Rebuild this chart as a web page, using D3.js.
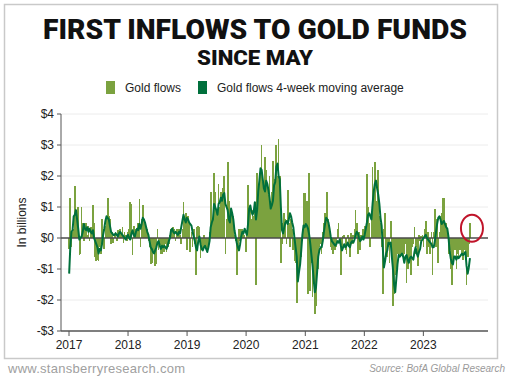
<!DOCTYPE html>
<html>
<head>
<meta charset="utf-8">
<script src="https://cdn.jsdelivr.net/npm/d3@7"></script>
<style>
  body { margin: 0; background: #fff; }
  svg { display: block; font-family: "Liberation Sans", Arial, sans-serif; }
</style>
</head>
<body>
<div id="chart"></div>
<script>
// weekly gold fund flows, $bn (one array per year)
const flows2017 = [-0.35,1.28,-0.3,0.2,0.3,1.68,0.8,0.9,1.0,-0.55,-0.5,1.0,0.5,-0.1,0.5,0.5,0.1,0.4,-0.1,0.35,0.2,1.05,0.5,-0.6,-0.75,-0.7,-0.75,-0.3,-0.5,0.6,0.3,-0.35,0.4,0.65,1.3,0.7,0.6,-0.2,0.2,-0.15,0.1,0.2,-0.1,0.25,0.15,0.3,0.1,0.35,-0.15,0.2,0.1,-0.1];
const flows2018 = [0.2,0.3,1.15,1.1,-0.55,0.4,0.2,0.3,0.15,0.5,1.25,-0.3,0.6,1.05,0.6,0.5,0.2,0.3,-0.1,-0.3,-0.85,-0.8,-0.2,-0.5,-0.9,-0.85,0.3,-0.4,-0.2,-0.5,-0.5,-0.3,-0.45,-0.2,-0.45,-0.3,-0.2,0.1,0.3,0.2,0.35,0.3,-0.1,0.3,0.25,0.3,0.1,-0.2,0.3,1.15,0.6,0.8];
const flows2019 = [-0.4,0.7,0.45,-0.45,0.2,-0.3,0.3,-0.2,-1.2,0.35,0.4,0.35,-0.65,-0.3,-0.4,0.1,-0.3,-0.2,-0.4,-0.3,0.2,1.5,0.6,0.5,2.1,1.5,0.9,0.8,1.75,1.0,1.5,0.9,1.6,2.0,-0.5,0.6,2.45,1.2,0.7,0.9,0.3,0.7,0.1,-0.1,-1.2,-0.3,0.3,-0.1,0.3,0.3,0.2,0.1];
const flows2020 = [-0.45,0.2,1.7,0.8,0.9,0.6,0.9,0.7,1.15,-1.5,2.1,1.6,2.0,2.2,3.0,1.8,1.2,2.6,2.2,1.6,1.4,2.0,1.2,1.5,2.5,1.9,1.5,3.0,2.0,3.2,2.0,-0.8,-0.2,0.5,0.8,0.6,-0.2,1.55,0.5,-0.3,0.6,0.3,-0.4,-0.75,-0.8,-2.1,-0.9,-1.0,-0.5,-0.6,0.3,1.45];
const flows2021 = [1.45,0.3,1.2,-1.8,2.1,-1.7,-0.8,-1.9,-1.3,-2.45,-2.2,-0.9,-1.0,-0.3,-0.2,-0.5,0.2,0.5,0.8,0.6,1.5,0.6,0.3,-0.3,-0.4,-0.5,-0.2,-0.4,-0.3,0.3,0.5,-0.1,-1.2,-0.3,0.05,0.1,-0.4,-0.5,0.1,-0.3,-0.6,0.15,-0.2,0.1,0.3,0.9,0.5,-0.5,0.2,-0.4,0.1,0.3];
const flows2022 = [0.3,0.4,0.4,2.05,1.0,0.5,-0.3,0.8,2.3,1.3,2.45,1.2,0.9,2.2,0.7,0.5,-0.3,-1.8,0.3,0.8,-0.5,-0.6,-0.3,-0.8,0.55,-0.6,-2.2,-1.8,-1.2,-1.0,-0.5,-0.6,-0.6,-0.5,-0.4,-0.6,-0.5,-0.2,-1.45,-1.0,-0.8,-0.6,-1.2,-0.3,-0.2,0.35,-0.5,-0.3,-0.9,0.1,-0.1,0.05];
const flows2023 = [0.1,-0.3,0.3,0.55,-0.5,0.2,-0.3,-0.5,0.2,-1.2,0.2,0.95,-0.3,0.6,-0.8,0.2,0.7,0.8,1.3,1.3,0.1,0.5,0.3,-0.5,-0.3,-1.0,-1.5,-0.6,-0.3,-0.4,-1.0,-0.5,-0.6,-0.4,-0.3,-0.5,-0.7,-0.4,-0.5,-1.5,-0.6,-0.2,0.5];

// 4-week moving average, $bn, also
const ma2017 = [-1.15,-0.3,0.2,0.25,0.7,0.75,0.9,0.6,0.3,-0.05,0.0,0.05,0.2,0.45,0.3,0.25,0.35,0.2,0.3,0.2,0.15,0.25,0.0,-0.1,-0.2,-0.3,-0.5,-0.35,-0.4,-0.2,0.1,0.3,0.55,0.7,0.65,0.6,0.4,0.2,0.15,0.1,0.1,0.15,0.1,0.05,0.15,0.2,0.15,0.1,0.05,0.0,-0.05,0.05];
const ma2018 = [0.1,0.0,-0.05,0.15,0.25,0.1,0.05,0.2,0.3,0.25,0.45,0.3,0.45,0.65,0.6,0.5,0.35,0.2,0.1,-0.1,-0.3,-0.35,-0.45,-0.5,-0.4,-0.3,-0.15,-0.1,-0.25,-0.35,-0.25,-0.3,-0.25,-0.3,-0.35,-0.25,-0.1,0.0,0.25,0.3,0.2,0.15,0.2,0.15,0.1,0.2,0.15,0.35,0.55,0.75,0.6,0.5];
const ma2019 = [0.65,0.6,0.5,0.45,0.4,0.2,0.05,-0.1,-0.3,-0.4,-0.1,0.05,-0.2,-0.35,-0.4,-0.3,-0.25,-0.35,-0.45,-0.3,-0.1,0.35,0.5,0.6,1.1,1.0,0.9,0.75,1.1,1.15,1.3,1.2,1.4,1.45,1.1,1.0,0.9,0.6,0.5,0.95,0.8,0.6,0.25,0.05,-0.15,-0.3,-0.4,-0.2,0.05,0.2,0.15,0.3];
const ma2020 = [0.2,0.1,0.45,0.95,1.05,0.85,0.75,0.85,1.15,0.6,0.9,1.5,1.85,2.25,2.2,1.9,1.6,1.5,1.85,1.75,1.55,1.3,0.95,1.05,1.2,1.7,1.8,2.3,2.4,2.0,1.9,1.0,0.25,0.15,0.35,0.5,0.55,0.45,0.6,0.8,0.7,0.5,0.35,0.0,-0.3,-0.6,-1.4,-1.1,-0.85,-0.4,0.1,0.4];
const ma2021 = [0.35,0.45,0.4,0.3,0.1,-0.2,-0.55,-0.9,-1.35,-1.75,-1.6,-1.1,-0.6,-0.4,-0.3,-0.3,-0.1,0.2,0.45,0.65,0.6,0.5,0.3,0.05,-0.1,-0.15,-0.2,-0.25,-0.2,-0.1,-0.15,-0.05,-0.25,-0.4,-0.3,-0.2,-0.3,-0.25,-0.15,-0.25,-0.3,-0.15,-0.1,-0.15,-0.05,0.1,0.2,0.15,0.0,-0.1,-0.05,0.05];
const ma2022 = [-0.05,0.1,0.3,0.5,0.75,0.8,0.7,0.6,1.1,1.5,1.75,1.85,1.6,1.4,1.1,0.65,0.4,-0.3,-0.95,-0.75,-0.5,-0.4,-0.15,-0.2,-0.15,-0.6,-1.0,-1.5,-1.75,-1.3,-0.85,-0.55,-0.6,-0.55,-0.5,-0.6,-0.8,-0.6,-0.55,-0.7,-0.8,-0.65,-0.6,-0.65,-0.7,-0.45,-0.3,-0.5,-0.6,-0.45,-0.35,-0.1];
const ma2023 = [-0.05,0.0,0.05,0.1,0.0,-0.05,-0.1,-0.15,-0.2,-0.3,-0.3,-0.1,0.2,0.45,0.65,0.7,0.6,0.45,0.5,0.55,0.45,0.35,0.3,0.05,-0.4,-0.65,-0.8,-0.85,-0.6,-0.6,-0.7,-0.6,-0.65,-0.6,-0.55,-0.5,-0.55,-0.5,-0.45,-0.9,-1.15,-0.95,-0.65];

const yTicks = [-3, -2, -1, 0, 1, 2, 3, 4];
const yearTicks = [2017, 2018, 2019, 2020, 2021, 2022, 2023];
const firstWeek = new Date(2017, 0, 2);

const flows = [].concat(flows2017, flows2018, flows2019, flows2020, flows2021, flows2022, flows2023);
const mavg = [].concat(ma2017, ma2018, ma2019, ma2020, ma2021, ma2022, ma2023);
const data = flows.map(function (v, i) {
  return { date: d3.timeDay.offset(firstWeek, 7 * i), flow: v, ma: mavg[i] };
});

const W = 510, H = 379;
const plotL = 61, plotR = 488, plotT = 114, plotB = 331;
const barColor = "#7ba23f";
const lineColor = "#00703c";

const svg = d3.select("#chart").append("svg")
  .attr("width", W)
  .attr("height", H);

svg.append("rect").attr("width", W).attr("height", H).attr("fill", "#fff");
svg.append("rect")
  .attr("x", 4.5).attr("y", 4.5)
  .attr("width", 493).attr("height", 354)
  .attr("fill", "none")
  .attr("stroke", "#c9c9c9")
  .attr("stroke-width", 1.5);

const x = d3.scaleTime()
  .domain([new Date(2017, 0, 1), new Date(2024, 0, 1)])
  .range([69, 482.4]);
const y = d3.scaleLinear().domain([-3, 4]).range([plotB, plotT]);

// titles
svg.append("text")
  .attr("x", W / 2).attr("y", 39)
  .attr("text-anchor", "middle")
  .attr("textLength", 424)
  .attr("lengthAdjust", "spacingAndGlyphs")
  .style("font-family", "Roboto, Inter, sans-serif")
  .style("font-weight", 900)
  .style("font-size", "27px")
  .attr("fill", "#111")
  .text("FIRST INFLOWS TO GOLD FUNDS");

svg.append("text")
  .attr("x", W / 2).attr("y", 65)
  .attr("text-anchor", "middle")
  .attr("textLength", 116)
  .attr("lengthAdjust", "spacingAndGlyphs")
  .style("font-family", "Roboto, Inter, sans-serif")
  .style("font-weight", 900)
  .style("font-size", "20px")
  .attr("fill", "#111")
  .text("SINCE MAY");

// legend
const legend = [
  { label: "Gold flows", color: barColor, x: 106 },
  { label: "Gold flows 4-week moving average", color: lineColor, x: 198 }
];
const lg = svg.append("g").selectAll("g").data(legend).enter().append("g");
lg.append("rect")
  .attr("x", function (d) { return d.x; })
  .attr("y", 81)
  .attr("width", 9).attr("height", 13)
  .attr("fill", function (d) { return d.color; });
lg.append("text")
  .attr("x", function (d) { return d.x + 19; })
  .attr("y", 92)
  .style("font-size", "12px")
  .attr("fill", "#222")
  .text(function (d) { return d.label; });

// grid
svg.append("g").selectAll("line")
  .data(yTicks.filter(function (t) { return t > -3 && t !== 0; }))
  .enter().append("line")
  .attr("x1", plotL).attr("x2", plotR)
  .attr("y1", function (d) { return y(d); })
  .attr("y2", function (d) { return y(d); })
  .attr("stroke", "#ececec")
  .attr("stroke-width", 1);

// bars (slightly overlapping so the weekly columns read as a filled band)
svg.append("g")
  .attr("shape-rendering", "crispEdges")
  .selectAll("rect")
  .data(data)
  .enter().append("rect")
  .attr("x", function (d) { return x(d.date) - 0.85; })
  .attr("width", 1.7)
  .attr("y", function (d) { return Math.min(y(d.flow), y(0)); })
  .attr("height", function (d) { return Math.abs(y(d.flow) - y(0)); })
  .attr("fill", barColor);

// zero line
svg.append("line")
  .attr("x1", plotL).attr("x2", plotR)
  .attr("y1", y(0)).attr("y2", y(0))
  .attr("stroke", "#4a4a4a")
  .attr("stroke-width", 1.5);

// moving average
const line = d3.line()
  .x(function (d) { return x(d.date); })
  .y(function (d) { return y(d.ma); });
svg.append("path")
  .datum(data)
  .attr("d", line)
  .attr("fill", "none")
  .attr("stroke", lineColor)
  .attr("stroke-width", 2)
  .attr("stroke-linejoin", "round");

// axes
const yAxis = svg.append("g");
yAxis.append("line")
  .attr("x1", plotL).attr("x2", plotL)
  .attr("y1", plotT).attr("y2", plotB)
  .attr("stroke", "#555");
const yt = yAxis.selectAll("g").data(yTicks).enter().append("g")
  .attr("transform", function (d) { return "translate(0," + y(d) + ")"; });
yt.append("line").attr("x1", plotL - 4).attr("x2", plotL).attr("stroke", "#555");
yt.append("text")
  .attr("x", plotL - 7)
  .attr("dy", "0.36em")
  .attr("text-anchor", "end")
  .style("font-size", "12px")
  .attr("fill", "#222")
  .text(function (d) { return (d < 0 ? "-$" : "$") + Math.abs(d); });

const xAxis = svg.append("g");
xAxis.append("line")
  .attr("x1", plotL).attr("x2", plotR)
  .attr("y1", plotB).attr("y2", plotB)
  .attr("stroke", "#555")
  .attr("stroke-width", 1.5);
const xt = xAxis.selectAll("g").data(yearTicks).enter().append("g")
  .attr("transform", function (d) { return "translate(" + x(new Date(d, 0, 1)) + ",0)"; });
xt.append("line").attr("y1", plotB).attr("y2", plotB + 5).attr("stroke", "#555");
xt.append("text")
  .attr("y", 349)
  .attr("text-anchor", "middle")
  .style("font-size", "12px")
  .attr("fill", "#222")
  .text(function (d) { return d; });

svg.append("text")
  .attr("transform", "translate(26," + y(0.5) + ")rotate(-90)")
  .attr("text-anchor", "middle")
  .style("font-size", "12px")
  .attr("fill", "#222")
  .text("In billions");

// red circle round the latest week
const last = data[data.length - 1];
svg.append("ellipse")
  .attr("cx", x(last.date) + 2)
  .attr("cy", (y(last.flow) + y(0)) / 2 - 2)
  .attr("rx", 11).attr("ry", 13.5)
  .attr("fill", "none")
  .attr("stroke", "#c0142a")
  .attr("stroke-width", 2);

// footer
svg.append("text")
  .attr("x", 8).attr("y", 373)
  .attr("textLength", 177)
  .attr("lengthAdjust", "spacing")
  .style("font-size", "13px")
  .attr("fill", "#a0a0a0")
  .text("www.stansberryresearch.com");
svg.append("text")
  .attr("x", 505).attr("y", 372)
  .attr("text-anchor", "end")
  .style("font-size", "10px")
  .style("font-style", "italic")
  .attr("fill", "#9a9a9a")
  .text("Source: BofA Global Research");
</script>
</body>
</html>
